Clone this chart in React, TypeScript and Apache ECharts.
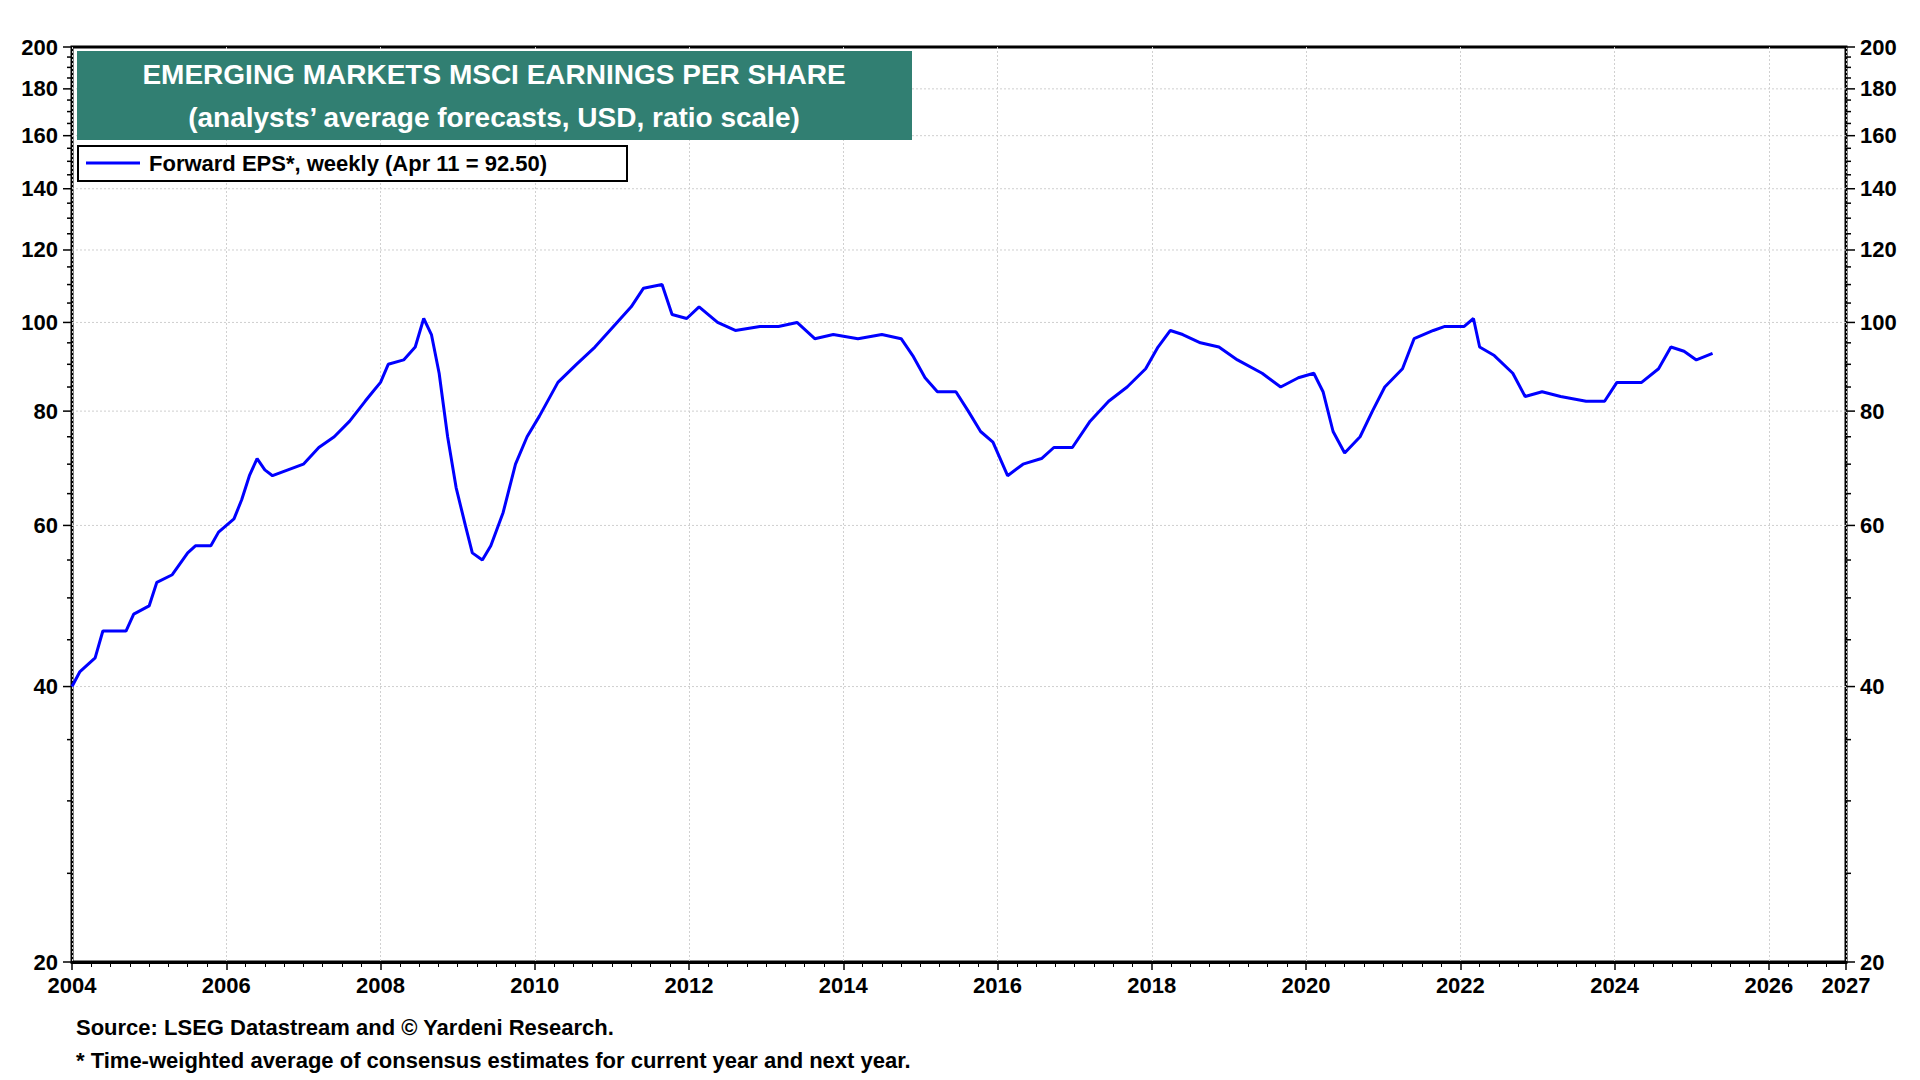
import React, { useEffect, useRef } from "react";
import * as echarts from "echarts";

const years = [2004.0,2004.1,2004.3,2004.4,2004.7,2004.8,2005.0,2005.1,2005.3,2005.5,2005.6,2005.8,2005.9,2006.1,2006.2,2006.3,2006.4,2006.5,2006.6,2006.8,2007.0,2007.2,2007.4,2007.6,2007.8,2007.9,2008.0,2008.1,2008.3,2008.45,2008.56,2008.66,2008.76,2008.87,2008.98,2009.1,2009.19,2009.32,2009.43,2009.59,2009.75,2009.9,2010.06,2010.3,2010.54,2010.78,2011.02,2011.25,2011.41,2011.65,2011.78,2011.97,2012.13,2012.37,2012.6,2012.92,2013.16,2013.4,2013.63,2013.87,2014.19,2014.5,2014.75,2014.9,2015.06,2015.22,2015.46,2015.62,2015.78,2015.94,2016.13,2016.33,2016.57,2016.73,2016.97,2017.2,2017.44,2017.68,2017.92,2018.08,2018.24,2018.4,2018.63,2018.87,2019.11,2019.43,2019.67,2019.9,2020.1,2020.22,2020.35,2020.5,2020.7,2020.86,2021.02,2021.25,2021.4,2021.65,2021.8,2022.05,2022.17,2022.25,2022.44,2022.68,2022.84,2023.06,2023.3,2023.63,2023.87,2024.03,2024.35,2024.57,2024.73,2024.9,2025.06,2025.27];
const eps = [40,41.5,43,46,46,48,49,52,53,56,57,57,59,61,64,68,71,69,68,69,70,73,75,78,82,84,86,90,91,94,101,97,88,75,66,60,56,55,57,62,70,75,79,86,90,94,99,104,109,110,102,101,104,100,98,99,99,100,96,97,96,97,96,92,87,84,84,80,76,74,68,70,71,73,73,78,82,85,89,94,98,97,95,94,91,88,85,87,88,84,76,72,75,80,85,89,96,98,99,99,101,94,92,88,83,84,83,82,82,86,86,89,94,93,91,92.5];
const tickValues = [20,40,60,80,100,120,140,160,180,200];
const minorValues = [25,30,35,45,50,55,65,70,75,85,90,95,105,110,115,125,130,135,145,150,155,165,170,175,185,190,195];

const F = "'Liberation Sans', Arial, sans-serif";

export default function App() {
  const ref = useRef<HTMLDivElement>(null);
  useEffect(() => {
    const chart = echarts.init(ref.current!, null, { renderer: "svg" });
    const lg = (v: number) => Math.log10(v);
    const labelSeries = (vals: number[], major: boolean) => ({
      type: "custom",
      silent: true,
      data: vals.map((v) => [2004, lg(v), v]),
      renderItem: (params: any, api: any) => {
        const v = api.value(2);
        const y = lg(v);
        const l = api.coord([2004, y]);
        const r = api.coord([2027, y]);
        const kids: any[] = [];
        const tl = major ? 9 : 5;
        kids.push({ type: "line", shape: { x1: l[0] - tl, y1: l[1], x2: l[0], y2: l[1] }, style: { stroke: "#000", lineWidth: 1.5 } });
        kids.push({ type: "line", shape: { x1: r[0], y1: r[1], x2: r[0] + tl, y2: r[1] }, style: { stroke: "#000", lineWidth: 1.5 } });
        if (major) {
          if (v !== 20 && v !== 200)
            kids.push({ type: "line", shape: { x1: l[0], y1: l[1], x2: r[0], y2: r[1] }, style: { stroke: "#cfcfcf", lineWidth: 1, lineDash: [2, 2] } });
          kids.push({ type: "text", x: l[0] - 14, y: l[1], style: { text: String(v), align: "right", verticalAlign: "middle", font: `bold 22px ${F}`, fill: "#000" } });
          kids.push({ type: "text", x: r[0] + 14, y: r[1], style: { text: String(v), align: "left", verticalAlign: "middle", font: `bold 22px ${F}`, fill: "#000" } });
        }
        return { type: "group", children: kids };
      },
      z: 1,
    });
    chart.setOption({
      animation: false,
      backgroundColor: "#fff",
      grid: { left: 72, right: 74, top: 47, bottom: 118, show: true, borderColor: "#000", borderWidth: 3, backgroundColor: "transparent" },
      xAxis: {
        type: "value", min: 2004, max: 2027, interval: 2,
        axisLine: { show: true, lineStyle: { color: "#000", width: 3 } },
        axisTick: { show: true, length: 8, lineStyle: { color: "#000", width: 1.5 } },
        minorTick: { show: true, splitNumber: 8, length: 5, lineStyle: { color: "#000" } },
        axisLabel: { formatter: (v: number) => String(v), font: `bold 22px ${F}`, fontFamily: F, fontWeight: "bold", fontSize: 22, color: "#000", margin: 12 },
        splitLine: { show: true, lineStyle: { color: "#d0d0d0", type: [2, 2] } },
      },
      yAxis: {
        type: "value", min: lg(20), max: lg(200),
        axisLine: { show: false }, axisTick: { show: false }, axisLabel: { show: false }, splitLine: { show: false },
      },
      series: [
        labelSeries(tickValues, true),
        labelSeries(minorValues, false),
        {
          type: "line", data: years.map((x, i) => [x, lg(eps[i])]), showSymbol: false,
          lineStyle: { color: "#0000ff", width: 3 }, z: 5,
        },
      ],
      graphic: [
        { type: "rect", shape: { x: 77, y: 51, width: 835, height: 89 }, style: { fill: "#317f72" }, z: 10 },
        { type: "text", x: 494, y: 74, style: { text: "EMERGING MARKETS MSCI EARNINGS PER SHARE", align: "center", verticalAlign: "middle", font: `bold 28px ${F}`, fill: "#fff" }, z: 11 },
        { type: "text", x: 494, y: 117, style: { text: "(analysts’ average forecasts, USD, ratio scale)", align: "center", verticalAlign: "middle", font: `bold 28px ${F}`, fill: "#fff" }, z: 11 },
        { type: "rect", shape: { x: 78, y: 146, width: 549, height: 35 }, style: { fill: "#fff", stroke: "#000", lineWidth: 2 }, z: 10 },
        { type: "line", shape: { x1: 86, y1: 163, x2: 140, y2: 163 }, style: { stroke: "#0000ff", lineWidth: 3 }, z: 11 },
        { type: "text", x: 149, y: 163, style: { text: "Forward EPS*, weekly (Apr 11 = 92.50)", verticalAlign: "middle", font: `bold 22px ${F}`, fill: "#000" }, z: 11 },
        { type: "text", x: 76, y: 1027, style: { text: "Source: LSEG Datastream and © Yardeni Research.", verticalAlign: "middle", font: `bold 22px ${F}`, fill: "#000" } },
        { type: "text", x: 76, y: 1060, style: { text: "* Time-weighted average of consensus estimates for current year and next year.", verticalAlign: "middle", font: `bold 22px ${F}`, fill: "#000" } },
      ],
    });
    return () => chart.dispose();
  }, []);
  return <div ref={ref} style={{ width: 1920, height: 1080, position: "absolute", left: 0, top: 0 }} />;
}
